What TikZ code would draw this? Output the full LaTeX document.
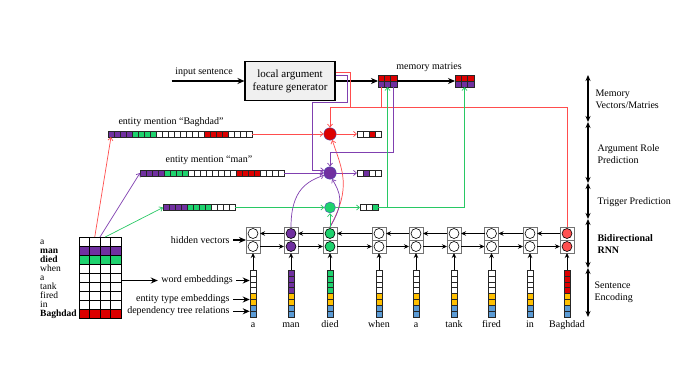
\documentclass[tikz,border=0pt]{standalone}
\usepackage{fontspec}
\setmainfont{Liberation Serif}
\usepackage{tikz}
\usetikzlibrary{
    arrows.meta,
    positioning,
    calc
}
\definecolor{lred}{RGB}{255,77,77}
\definecolor{lgreen}{RGB}{40,200,100}
\definecolor{lpurple}{RGB}{128,64,176}
\definecolor{cred}{RGB}{220,0,0}
\definecolor{cpurple}{RGB}{112,48,160}
\definecolor{cgreen}{RGB}{30,210,110}
\definecolor{cyellow}{RGB}{255,192,0}
\definecolor{cblue}{RGB}{91,155,213}
\definecolor{hred}{RGB}{255,80,80}

\begin{document}
\begin{tikzpicture}[
    x=1pt,
    y=-1pt,
    font=\fontsize{10}{12}\selectfont,
    genbox/.style={
        rectangle,
        draw,
        line width=1.1pt,
        fill=black!6,
        align=center,
        minimum width=90pt,
        minimum height=39pt,
        font=\fontsize{11}{13}\selectfont
    },
    vcell/.style={
        rectangle,
        draw=black!85,
        line width=0.5pt,
        inner sep=0pt,
        outer sep=0pt,
        minimum width=6pt,
        minimum height=6pt
    },
    wcell/.style={vcell, minimum width=6.5pt, minimum height=5.9pt},
    mcell/.style={vcell, draw=black, line width=0.7pt, minimum width=10.5pt, minimum height=9pt},
    memcell/.style={vcell, minimum width=6.33pt, minimum height=6pt},
    hbox/.style={
        rectangle,
        draw=black!55,
        line width=0.8pt,
        fill=white,
        inner sep=0pt,
        outer sep=0pt,
        minimum width=14pt,
        minimum height=13pt
    },
    hcirc/.style={circle, draw, line width=0.6pt, inner sep=0pt, minimum size=10pt},
    predcirc/.style={circle, draw=blue!40!gray, line width=0.4pt, inner sep=0pt, minimum size=12.5pt},
    blk/.style={-{Stealth[length=5pt,width=4.5pt]}, line width=0.9pt},
    blkthick/.style={-{Stealth[length=7pt,width=6pt]}, line width=1.2pt},
    carrow/.style={-{Straight Barb[length=3pt,width=5pt]}, line width=0.7pt},
    cline/.style={line width=0.7pt},
    dbl/.style={{Stealth[length=6pt,width=5pt]}-{Stealth[length=6pt,width=5pt]}, line width=1.2pt}
]
\useasboundingbox (0,0) rectangle (677,379);

% generador y memoria
\node[genbox] (gen) at (290,81) {local argument\\feature generator};
\node (inlab) at (204,72) {input sentence};
\foreach \c [count=\i] in {cred,cred,cred,cpurple,cpurple,cpurple} {
    \pgfmathsetmacro{\mx}{381.17+6.33*mod(\i-1,3)}
    \pgfmathsetmacro{\my}{\i>3 ? 84 : 78}
    \node[memcell, fill=\c] (mema-\i) at (\mx,\my) {};
    \node[memcell, fill=\c] (memb-\i) at (\mx+77,\my) {};
}
\node (memlab) at (429,67) {memory matries};

% vectores de mencion
\foreach \c [count=\i] in {cpurple,cpurple,cpurple,cpurple,cgreen,cgreen,cgreen,cgreen,white,white,white,white,white,white,white,white,cred,cred,cred,cred,white,white,white,white} {
    \node[vcell, fill=\c] (bag-\i) at ({105+6*\i},134) {};
    \node[vcell, fill=\c] (man-\i) at ({137+6*\i},173) {};
}
\foreach \c [count=\i] in {cpurple,cpurple,cpurple,cpurple,cgreen,cgreen,cgreen,cgreen,white,white,white,white} {
    \node[vcell, fill=\c] (trg-\i) at ({160+6*\i},207.5) {};
}
\node[above=1pt of bag-11] (baglab) {entity mention “Baghdad”};
\node[above=2pt of man-12] (manlab) {entity mention “man”};

% prediccion
\node[predcirc, fill=cred] (rolebag) at (330,134) {};
\node[predcirc, fill=cpurple] (roleman) at (330,173) {};
\node[predcirc, fill=cgreen, minimum size=11pt] (trigger) at (330,207.5) {};
\foreach \c [count=\i] in {white,white,cred,white} {
    \node[vcell, fill=\c] (outb-\i) at ({354+6*\i},134) {};
}
\foreach \c [count=\i] in {white,cpurple,white,white} {
    \node[vcell, fill=\c] (outm-\i) at ({354+6*\i},173) {};
}
\foreach \c [count=\i] in {white,white,cgreen} {
    \node[vcell, fill=\c] (outt-\i) at ({357+6*\i},207.5) {};
}

% matriz de entrada
\foreach \c [count=\r] in {white,cpurple,cgreen,white,white,white,white,white,cred} {
    \foreach \k in {1,...,4}
        \node[mcell, fill=\c] (in-\r-\k) at ({73.75+10.5*\k},{232.5+9*\r}) {};
}
\foreach \w [count=\r] in {a,\textbf{man},\textbf{died},when,a,tank,fired,in,\textbf{Baghdad}} {
    \node[anchor=base west, inner sep=0pt, font=\fontsize{9.5}{9}\selectfont] (tok-\r) at (40,{235.5+9*\r}) {\w};
}

% RNN bidireccional
\foreach \x/\w/\c/\h [count=\i] in {253/a/white/white, 291/man/cpurple/cpurple, 330/died/cgreen/cgreen, 379/when/white/white, 416/a/white/white, 454/tank/white/white, 491.5/fired/white/white, 530/in/white/white, 567/Baghdad/cred/hred} {
    \foreach \k in {1,...,4}
        \node[wcell, fill=\c] (w\i-\k) at (\x,{267.05+5.9*\k}) {};
    \foreach \k in {5,6}
        \node[wcell, fill=cyellow] (w\i-\k) at (\x,{267.05+5.9*\k}) {};
    \foreach \k in {7,8}
        \node[wcell, fill=cblue] (w\i-\k) at (\x,{267.05+5.9*\k}) {};
    \node[anchor=base] (word-\i) at (\x,327) {\w};
    \node[hbox] (hf-\i) at (\x,246.5) {};
    \node[hbox] (hb-\i) at (\x,233.5) {};
    \node[hcirc, fill=\h] (cf-\i) at (hf-\i) {};
    \node[hcirc, fill=\h] (cb-\i) at (hb-\i) {};
    \draw[blk] (w\i-1.north) -- (hf-\i.south);
}
\foreach \i [evaluate=\i as \j using int(\i+1)] in {1,...,8} {
    \draw[blk] (hf-\i.east) -- (hf-\j.west);
    \draw[blk] (hb-\j.west) -- (hb-\i.east);
}

% etiquetas de entrada
\node[anchor=east] (hidlab) at (233,240) {hidden vectors};
\node (wordlab) at (197,280.5) {word embeddings};
\node[anchor=east] (typelab) at (233,299.5) {entity type embeddings};
\node[anchor=east] (deplab) at (233,311.3) {dependency tree relations};
\draw[blkthick] (hidlab.east) -- (hidlab.east -| hb-1.west);
\draw[blkthick] (in-5-4.east |- wordlab.west) -- (wordlab.west);
\draw[blkthick] (wordlab.east) -- (wordlab.east -| w1-2.west);
\draw[blkthick] (typelab.east) -- (typelab.east -| w1-5.west);
\draw[blkthick] (deplab.east) -- (deplab.east -| w1-7.west);

% flujo superior
\draw[blkthick] (inlab.west |- gen.west) -- (gen.west);
\draw[blkthick] (gen.east) -- (mema-1.south west);
\draw[blkthick] (mema-3.south east) -- (memb-1.south west);

% menciones
\draw[carrow, lred] (in-1-2.north) -- (bag-1.south);
\draw[carrow, lpurple] (in-1-2.north east) -- (man-1.west);
\draw[carrow, lgreen] (in-1-3.north) -- (trg-1.west);
\draw[carrow, lred] (bag-24.east) -- (rolebag.west);
\draw[carrow, lpurple] (man-24.east) -- (roleman.west);
\draw[carrow, lgreen] (trg-12.east) -- (trigger.west);
\draw[carrow, lred] (rolebag.east) -- (outb-1.west);
\draw[carrow, lpurple] (roleman.east) -- (outm-1.west);
\draw[carrow, lgreen] (trigger.east) -- (outt-1.west);

% rama roja
\coordinate (redbus) at (330,107);
\draw[cline, lred] (hb-9.north) |- (redbus);
\draw[cline, lred] (mema-4.south) -- (mema-4.south |- redbus);
\draw[cline, lred] ($(gen.east)+(0,-9)$) -- ++(15,0) |- (redbus);
\draw[carrow, lred] (redbus) -- (rolebag.north);
\draw[carrow, lred] (hb-3.north) .. controls +(22,-40) and +(10,30) .. (rolebag.-70);

% rama morada
\coordinate (purbus) at (330,152);
\coordinate (purleft) at (312,102.5);
\draw[carrow, lpurple] (mema-6.south) |- (purbus) -- (roleman.north);
\draw[carrow, lpurple] ($(gen.east)+(0,-6)$) -| ($(purleft)+(35,0)$) -- (purleft) |- (roleman.155);
\draw[carrow, lpurple] (hb-2.north) .. controls +(0,-38) and +(-16,6) .. (roleman.200);
\draw[carrow, lpurple] (hb-3.north) .. controls +(15,-25) and +(8,14) .. (roleman.-70);

% rama verde
\draw[carrow, lgreen] (hb-3.north) -- (trigger.south);
\draw[carrow, lgreen] (outt-3.east) -| (mema-5.south);
\draw[carrow, lgreen] (outt-3.east) -| (memb-5.south);

% niveles
\foreach \y [count=\i from 0] in {75,122,183,219,268,317} {
    \coordinate (lev-\i) at (588,\y);
}
\foreach \i [evaluate=\i as \j using int(\i+1)] in {0,...,4} {
    \draw[dbl] (lev-\i) -- (lev-\j);
}
\node[anchor=west, align=left] (memory) at (592,99) {Memory\\Vectors/Matries};
\node[anchor=west, align=left] (argrole) at (594,154) {Argument Role\\Prediction};
\node[anchor=west] (trigpred) at (594,202) {Trigger Prediction};
\node[anchor=west, align=left, font=\fontsize{10}{12}\selectfont\bfseries] (birnn) at (594,244) {Bidirectional\\RNN};
\node[anchor=west, align=left] (senc) at (591,292.5) {Sentence\\Encoding};

\end{tikzpicture}
\end{document}
